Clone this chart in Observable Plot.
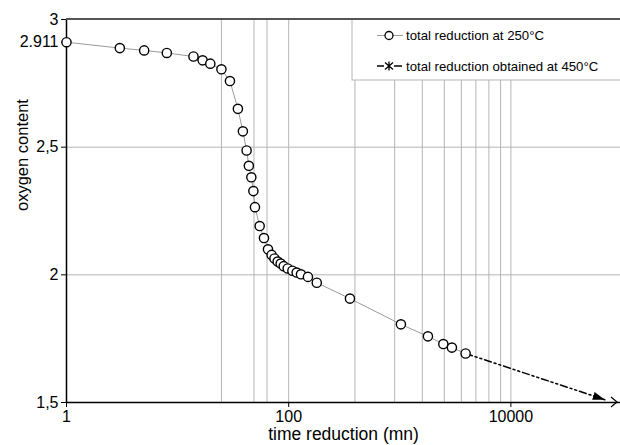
<!DOCTYPE html>
<html>
<head>
<meta charset="utf-8">
<script src="https://cdn.jsdelivr.net/npm/d3@7"></script>
<script src="https://cdn.jsdelivr.net/npm/@observablehq/plot@0.6"></script>
<style>
  html, body { margin: 0; padding: 0; background: #fff; }
  #chart svg { display: block; }
</style>
</head>
<body>
<div id="chart"></div>
<script>
// ---- data ----
const timeMin = [1, 3.02, 5, 8, 13.9, 16.8, 19.7, 24.8, 29.6, 34.9, 38.7, 41.8, 43.8, 46.1, 48.1, 49.7,
  54.8, 59.9, 65.1, 70.2, 74.5, 79.6, 84.7, 90.2, 98, 108, 118, 129, 149, 179, 356, 1024, 1792, 2465, 2945, 3913];
const oxygen = [2.911, 2.888, 2.879, 2.869, 2.855, 2.840, 2.827, 2.805, 2.759, 2.650, 2.562, 2.487, 2.427, 2.382, 2.328, 2.265,
  2.191, 2.144, 2.100, 2.078, 2.064, 2.052, 2.044, 2.034, 2.025, 2.016, 2.009, 2.002, 1.992, 1.969, 1.907, 1.806, 1.759, 1.729, 1.715, 1.692];
const ext450Time = [3913, 70000];
const ext450Oxy = [1.692, 1.511];
const xTicks = [1, 100, 10000];
const yTicks = [1.5, 2, 2.5, 2.911, 3];
const yTickLabels = ["1,5", "2", "2,5", "2.911", "3"];
const xGrid = [24.8, 48.7, 63.8, 100, 395, 900, 1595, 2517, 3580, 4843, 6339, 8077, 10000];
const yGrid = [2, 2.5];
const seriesNames = ["total reduction at 250°C", "total reduction obtained at 450°C"];
const xTitle = "time reduction (mn)";
const yTitle = "oxygen content";

const main = timeMin.map((t, i) => ({t, o: oxygen[i]}));
const ext = ext450Time.map((t, i) => ({t, o: ext450Oxy[i]}));

const W = 620, H = 445;
const FONT = "'Liberation Sans', Arial, sans-serif";
const plot = Plot.plot({
  width: W, height: H,
  marginLeft: 66, marginRight: 0, marginTop: 19, marginBottom: 43,
  style: {fontFamily: FONT, fontSize: "16px", color: "#000", background: "#fff"},
  x: {type: "log", domain: [1, 97000]},
  y: {domain: [1.5, 3]},
  marks: [
    Plot.ruleX(xGrid, {stroke: "#b5b5b5", strokeWidth: 1}),
    Plot.ruleY(yGrid, {stroke: "#b5b5b5", strokeWidth: 1}),
    Plot.ruleY([1.5], {stroke: "#000", strokeWidth: 1.5}),
    Plot.ruleX([1], {stroke: "#000", strokeWidth: 1.5}),
    Plot.axisX({ticks: xTicks, tickFormat: d => String(d), tickSize: 5, tickPadding: 3, label: null, fontSize: 16}),
    Plot.axisY({ticks: yTicks, tickFormat: d => yTickLabels[yTicks.indexOf(d)], tickSize: 5, tickPadding: 3, label: null, fontSize: 16}),
    Plot.line(ext, {x: "t", y: "o", stroke: "#000", strokeWidth: 1.5, strokeDasharray: "7,3,2,3,2,3", className: "ext450"}),
    Plot.line(main, {x: "t", y: "o", stroke: "#9a9a9a", strokeWidth: 1}),
    Plot.dot(main, {x: "t", y: "o", r: 4.6, fill: "#fff", stroke: "#000", strokeWidth: 1.4}),
    Plot.text([xTitle], {frameAnchor: "bottom", dy: 37, fontSize: 17.5}),
    Plot.text([yTitle], {frameAnchor: "left", dx: -44, rotate: -90, fontSize: 16.5})
  ]
});

const svg = d3.select(plot);
// arrowhead for the 450°C extension line
const defs = svg.append("defs");
defs.append("marker")
  .attr("id", "ah").attr("viewBox", "0 0 10 10").attr("refX", 10).attr("refY", 5)
  .attr("markerWidth", 12).attr("markerHeight", 8).attr("markerUnits", "userSpaceOnUse")
  .attr("preserveAspectRatio", "none").attr("orient", "auto")
  .append("path").attr("d", "M0,0L10,5L0,10Z").attr("fill", "#000");
svg.selectAll("g.ext450 path").attr("marker-end", "url(#ah)").attr("stroke-dasharray", "7,3,2,3,2,3");

// open arrow at the right end of the x axis
const yb = H - 43;
svg.append("path").attr("d", `M${W - 9},${yb - 5}L${W - 3},${yb}L${W - 9},${yb + 5}`)
  .attr("fill", "none").attr("stroke", "#000").attr("stroke-width", 1.2);

// legend
const lg = svg.append("g").attr("font-family", FONT).attr("font-size", 13.2).attr("text-anchor", "start");
lg.append("rect").attr("x", 352).attr("y", 19).attr("width", 290).attr("height", 61)
  .attr("fill", "#fff").attr("stroke", "#b5b5b5");
// entry 1
lg.append("line").attr("x1", 377).attr("x2", 403).attr("y1", 35.5).attr("y2", 35.5).attr("stroke", "#9a9a9a");
lg.append("circle").attr("cx", 389).attr("cy", 35.5).attr("r", 4).attr("fill", "#fff").attr("stroke", "#000").attr("stroke-width", 1.3);
lg.append("text").attr("x", 406).attr("y", 35.5).attr("dy", "0.35em").attr("text-anchor", "start").text(seriesNames[0]);
// entry 2
lg.append("line").attr("x1", 377).attr("x2", 384).attr("y1", 66).attr("y2", 66).attr("stroke", "#000").attr("stroke-width", 1.5);
lg.append("line").attr("x1", 394).attr("x2", 402).attr("y1", 66).attr("y2", 66).attr("stroke", "#000").attr("stroke-width", 1.5);
lg.append("path").attr("d", "M389,61.5V70.5M385,62.5L393,69.5M393,62.5L385,69.5")
  .attr("stroke", "#000").attr("stroke-width", 1.3).attr("fill", "none");
lg.append("text").attr("x", 406).attr("y", 66).attr("dy", "0.35em").attr("text-anchor", "start").text(seriesNames[1]);

// top frame line drawn over the legend box
const sy = plot.scale("y");
svg.append("line").attr("x1", 66).attr("x2", W).attr("y1", sy.apply(3)).attr("y2", sy.apply(3))
  .attr("stroke", "#555").attr("stroke-width", 2);

document.getElementById("chart").appendChild(plot);
</script>
</body>
</html>
